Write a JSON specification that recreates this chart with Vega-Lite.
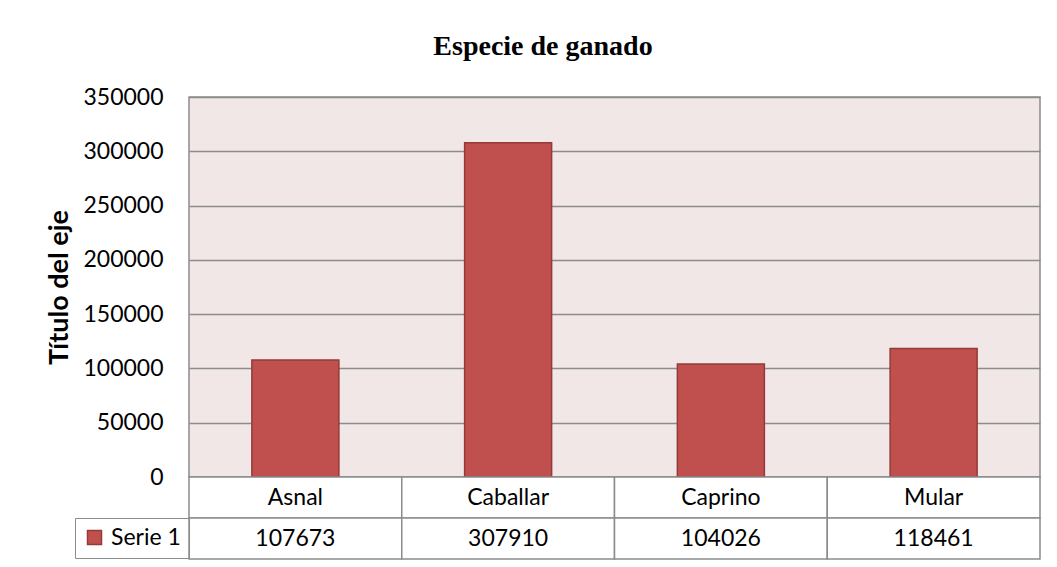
{
  "$schema": "https://vega.github.io/schema/vega-lite/v6.json",
  "padding": {"left": 45, "top": 33, "right": 10, "bottom": 5},
  "background": "white",
  "title": {"text": "Especie de ganado", "font": "Liberation Serif", "fontSize": 28, "fontWeight": "bold", "color": "black", "anchor": "middle", "offset": 24},
  "data": {"values": [
    {"especie": "Asnal", "valor": 107673, "serie": "Serie 1"},
    {"especie": "Caballar", "valor": 307910, "serie": "Serie 1"},
    {"especie": "Caprino", "valor": 104026, "serie": "Serie 1"},
    {"especie": "Mular", "valor": 118461, "serie": "Serie 1"}
  ]},
  "spacing": 0,
  "bounds": "flush",
  "resolve": {"scale": {"color": "independent"}, "legend": {"color": "independent"}},
  "vconcat": [
    {
      "width": 851, "height": 380,
      "view": {"fill": "#F2E7E7", "stroke": "#8C8C8C", "strokeWidth": 1.5},
      "mark": {"type": "bar", "fill": "#C0504D", "stroke": "#953A38", "strokeWidth": 1.5},
      "encoding": {
        "x": {"field": "especie", "type": "nominal", "sort": null, "scale": {"paddingInner": 0.591, "paddingOuter": 0.2955}, "axis": null},
        "y": {"field": "valor", "type": "quantitative", "scale": {"domain": [0, 350000], "nice": false},
          "axis": {"values": [0, 50000, 100000, 150000, 200000, 250000, 300000, 350000], "format": "d",
            "title": "Título del eje", "titleFont": "Lato", "titleFontSize": 27, "titleFontWeight": "bold", "titleColor": "black", "titlePadding": 9,
            "labelFont": "Lato", "labelFontSize": 23, "labelColor": "black", "labelPadding": 26,
            "ticks": false, "domain": false, "grid": true, "gridColor": "#8C8C8C", "gridWidth": 1.5}}
      }
    },
    {
      "width": 851, "height": 41,
      "layer": [
        {"mark": {"type": "rect", "fill": "white", "stroke": "#8C8C8C", "strokeWidth": 1.5},
         "encoding": {"x": {"field": "especie", "type": "nominal", "sort": null, "scale": {"paddingInner": 0, "paddingOuter": 0}, "axis": null}}},
        {"mark": {"type": "text", "font": "Lato", "fontSize": 23, "color": "black", "baseline": "middle"},
         "encoding": {"x": {"field": "especie", "type": "nominal", "sort": null, "axis": null}, "text": {"field": "especie"}}}
      ]
    },
    {
      "width": 851, "height": 41,
      "layer": [
        {"mark": {"type": "rect", "fill": "white", "stroke": "#8C8C8C", "strokeWidth": 1.5},
         "encoding": {"x": {"field": "especie", "type": "nominal", "sort": null, "scale": {"paddingInner": 0, "paddingOuter": 0}, "axis": null}}},
        {"mark": {"type": "text", "font": "Lato", "fontSize": 23, "color": "black", "baseline": "middle"},
         "encoding": {"x": {"field": "especie", "type": "nominal", "sort": null, "axis": null}, "text": {"field": "valor", "type": "quantitative", "format": "d"}}},
        {"transform": [{"filter": "datum.valor < 0"}],
         "mark": {"type": "square", "filled": true, "opacity": 1, "stroke": "#953A38", "strokeWidth": 1.5},
         "encoding": {"color": {"field": "serie", "type": "nominal",
           "scale": {"domain": ["Serie 1"], "range": ["#C0504D"]},
           "legend": {"orient": "left", "title": null, "offset": 0, "padding": 8, "strokeColor": "#8C8C8C",
             "symbolType": "square", "symbolSize": 196, "symbolOpacity": 1, "symbolStrokeColor": "#953A38", "symbolStrokeWidth": 1.5,
             "labelFont": "Lato", "labelFontSize": 23, "labelColor": "black", "labelOffset": 5}}}}
      ]
    }
  ],
  "config": {"view": {"stroke": null}}
}
